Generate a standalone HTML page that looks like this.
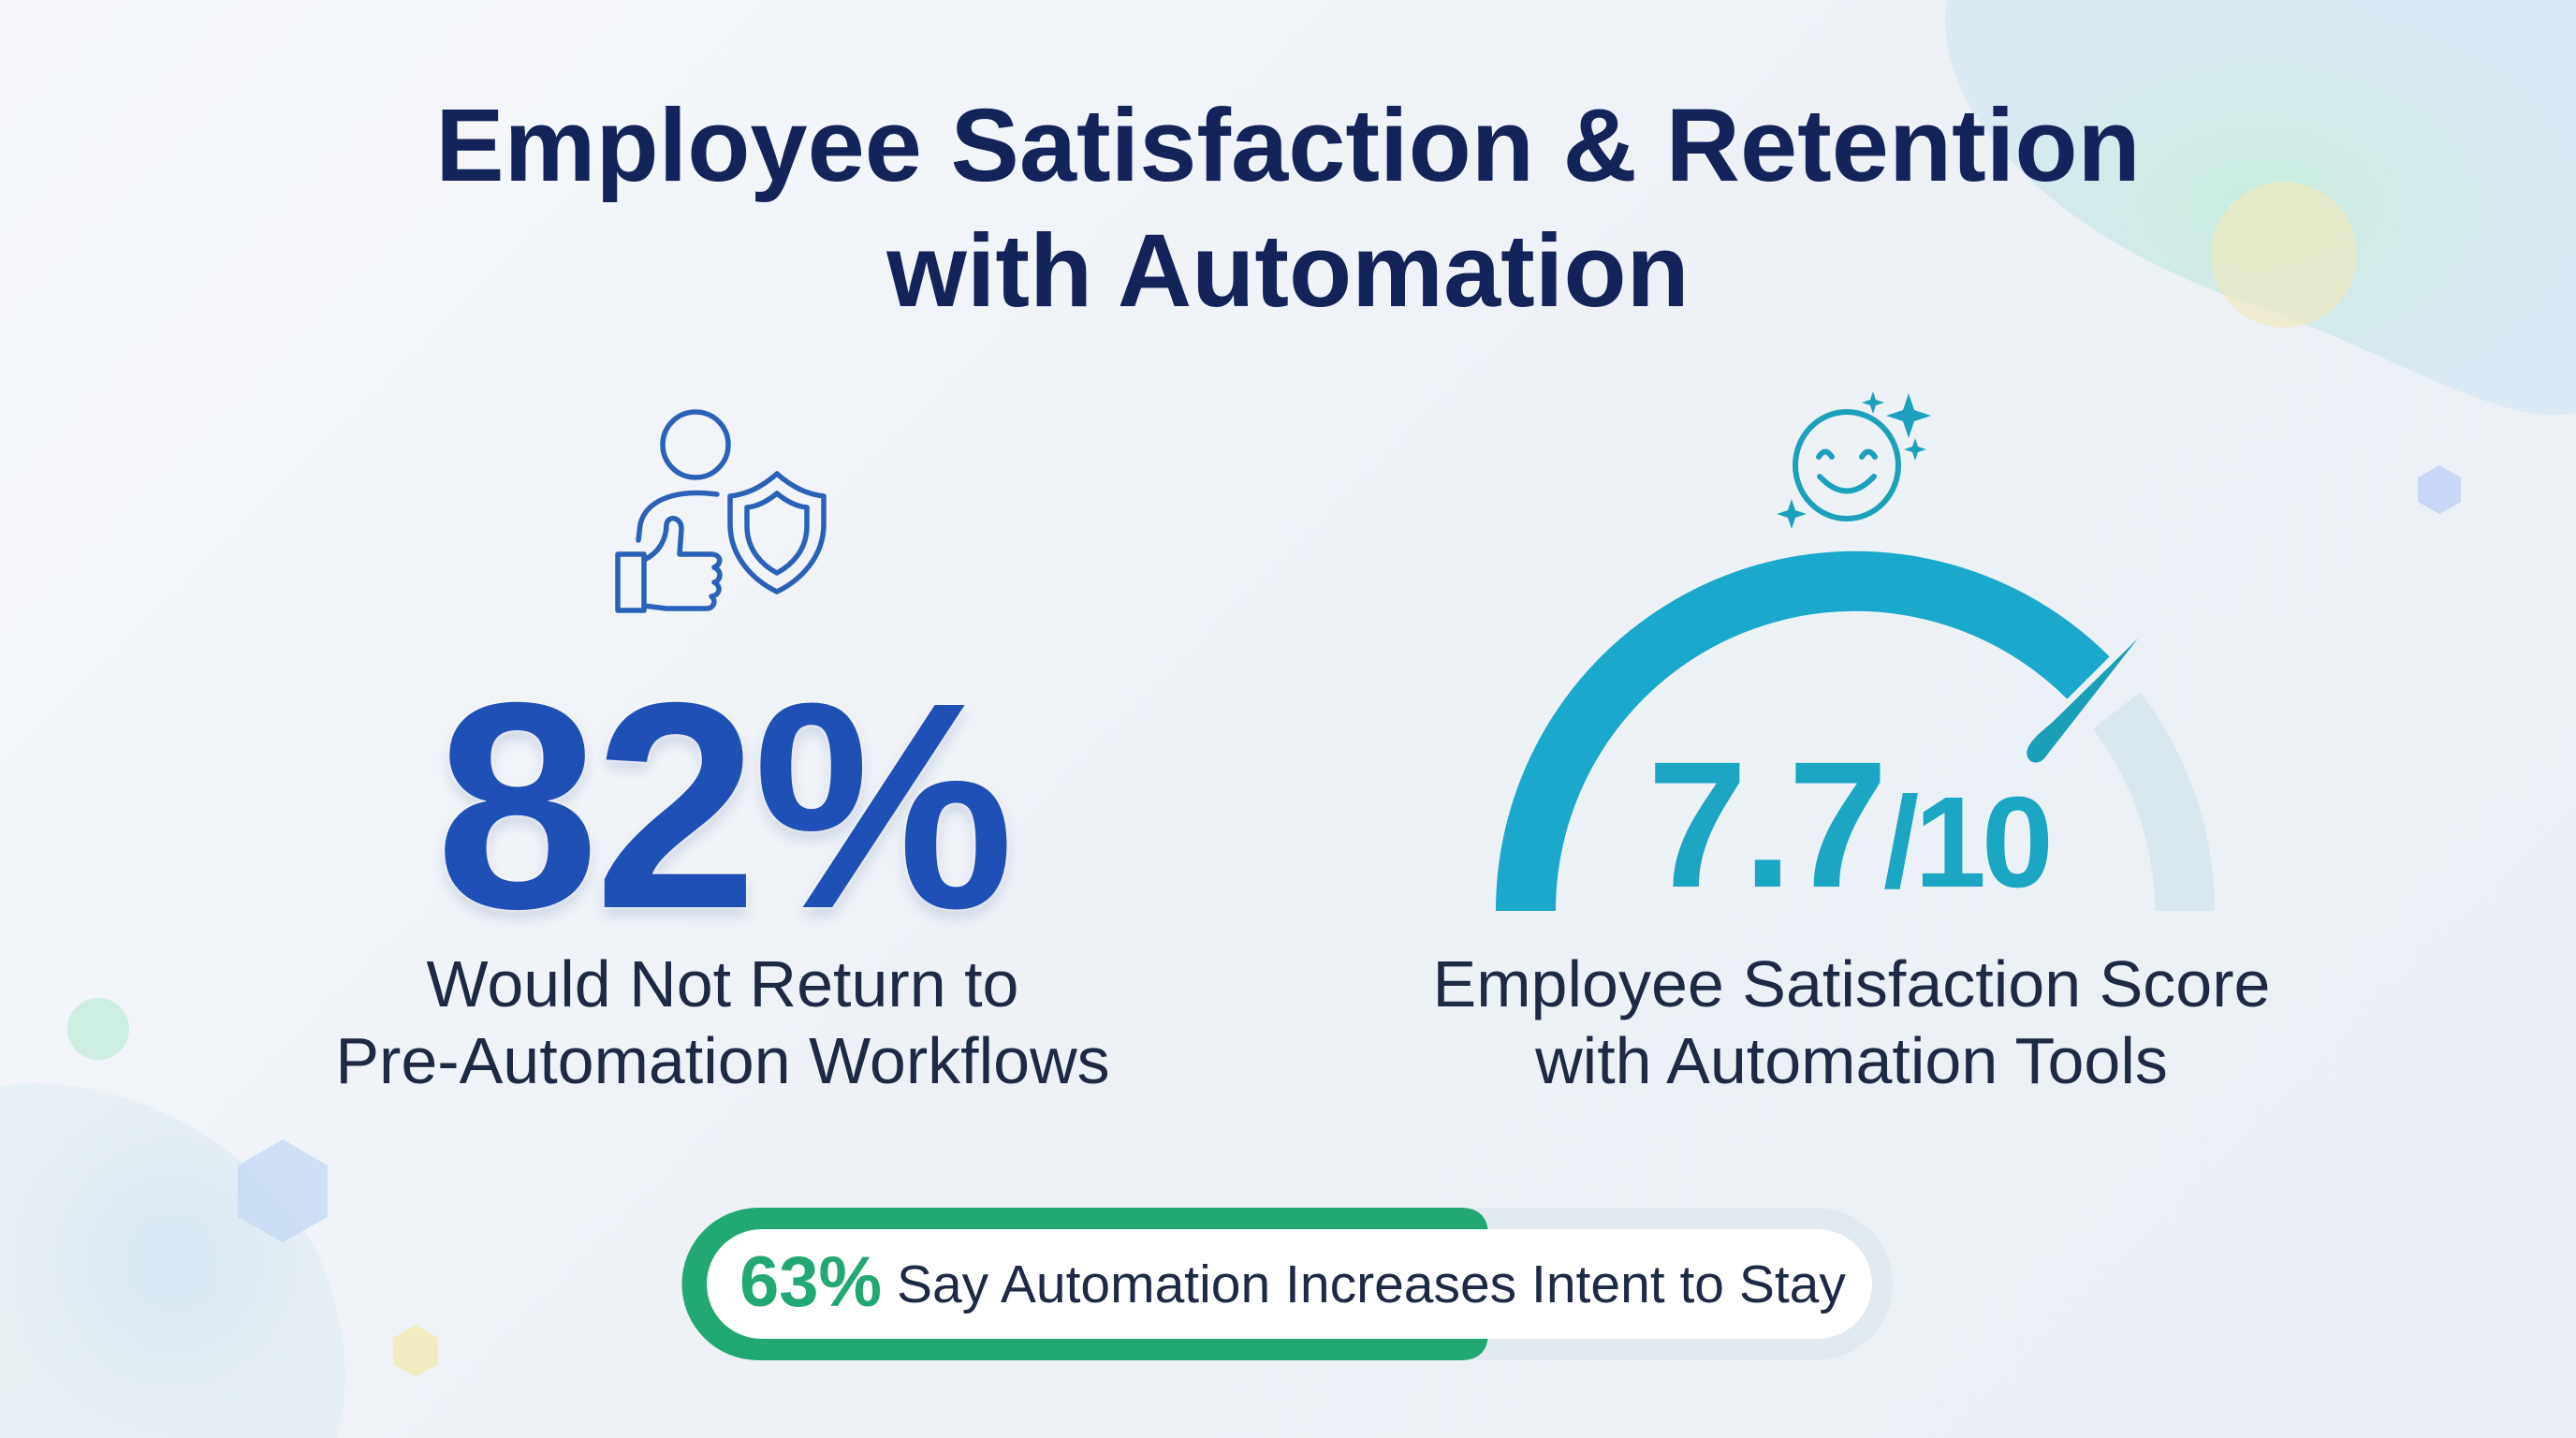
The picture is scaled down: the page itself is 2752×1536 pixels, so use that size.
<!DOCTYPE html>
<html><head><meta charset="utf-8"><style>
html,body{margin:0;padding:0}
body{width:2752px;height:1536px;overflow:hidden;background:linear-gradient(135deg,#f6f8fb 0%,#eef2f7 50%,#eaf0f6 100%);font-family:"Liberation Sans",sans-serif;position:relative}
.t{position:absolute;left:0;width:2752px;text-align:center;color:#14235a;font-weight:bold;font-size:110px;letter-spacing:0px}
.c{position:absolute;text-align:center;color:#1e2a44;font-size:70px;line-height:82px}
</style></head><body>
<svg width="2752" height="1536" style="position:absolute;left:0;top:0">
<defs>
<radialGradient id="g1" cx="0.5" cy="0.5" r="0.5"><stop offset="0" stop-color="#c6ecdc"/><stop offset="1" stop-color="#d2e6f2" stop-opacity="0.7"/></radialGradient>
<radialGradient id="g2" cx="0.5" cy="0.5" r="0.5"><stop offset="0" stop-color="#d5e6f5"/><stop offset="1" stop-color="#dcecf0" stop-opacity="0.5"/></radialGradient>
</defs>
<path d="M2080 0 C2060 120 2200 260 2420 330 C2560 380 2680 460 2752 440 L2752 0 Z" fill="url(#g1)" opacity="0.95"/>
<circle cx="2440" cy="272" r="78" fill="#efeac0" opacity="0.7"/>
<polygon points="2606,497 2629,510 2629,536 2606,549 2583,536 2583,510" fill="#c9d6f4"/>
<path d="M0 1160 C120 1140 280 1220 340 1340 C380 1430 370 1500 360 1536 L0 1536 Z" fill="url(#g2)" opacity="0.9"/>
<circle cx="105" cy="1099" r="33" fill="#cdeee0"/>
<polygon points="302,1217 350,1245 350,1300 302,1327 254,1300 254,1245" fill="#c5d8f2" opacity="0.8"/>
<polygon points="444,1415 468,1429 468,1457 444,1471 420,1457 420,1429" fill="#f3ecc0"/>
<g fill="none" stroke="#2a62b8" stroke-width="5.5" stroke-linecap="round" stroke-linejoin="round">
<circle cx="743" cy="475" r="35"/>
<path d="M766 528 C720 522 690 535 684 560 L682 577"/>
<path d="M660 592 L688 592 L688 652 L660 652 Z"/>
<path d="M688 598 C705 590 712 575 712 560 C714 550 728 552 728 565 L726 592 L760 592 C770 592 772 602 763 606 C772 610 770 620 763 622 C771 626 769 636 760 637 C766 642 762 650 755 650 L712 650 L688 647"/>
<path d="M830 506 C812 522 796 528 780 530 L780 560 C780 595 805 620 830 632 C855 620 880 595 880 560 L880 530 C864 528 848 522 830 506 Z"/>
<path d="M830 527 C818 537 808 541 798 542 L798 562 C798 588 815 604 830 612 C845 604 862 588 862 562 L862 542 C852 541 842 537 830 527 Z"/>
</g>
<g fill="none" stroke="#1ba1bd" stroke-width="6" stroke-linecap="round">
<ellipse cx="1973" cy="497" rx="55" ry="57"/>
<path d="M1943 488 Q1950 477 1957 488"/><path d="M1989 488 Q1996 477 2003 488"/>
<path d="M1944 509 Q1973 540 2002 509"/>
</g>
<g fill="#1ba1bd">
<path d="M2039 420 l6 18 l18 6 l-18 6 l-6 18 l-6 -18 l-18 -6 l18 -6 z"/>
<path d="M2001 418 l3 9 l9 3 l-9 3 l-3 9 l-3 -9 l-9 -3 l9 -3 z"/>
<path d="M2046 468 l3 9 l9 3 l-9 3 l-3 9 l-3 -9 l-9 -3 l9 -3 z"/>
<path d="M1914 533 l4 12 l12 4 l-12 4 l-4 12 l-4 -12 l-12 -4 l12 -4 z"/>
</g>
<path d="M1630 973 A352 352 0 0 1 2231 724" fill="none" stroke="#1aa8cc" stroke-width="64"/>
<path d="M2261 759 A352 352 0 0 1 2334 973" fill="none" stroke="#d9e7ef" stroke-width="64"/>
<path d="M2284 682 L2184 810 C2175 820 2162 812 2166 800 C2170 790 2180 782 2192 772 Z" fill="#1a9fb8"/>
<rect x="728" y="1290" width="1294" height="163" rx="82" fill="#dfe8ee" opacity="0.8"/>
<path d="M810 1290 L1560 1290 Q1590 1290 1590 1320 L1590 1423 Q1590 1453 1560 1453 L810 1453 A81.5 81.5 0 0 1 810 1290 Z" fill="#22a873"/>
<rect x="755" y="1313" width="1245" height="117" rx="58.5" fill="#ffffff"/>
</svg>
<div class="t" style="top:92px">Employee Satisfaction &amp; Retention</div>
<div class="t" style="top:226px">with Automation</div>
<div style="position:absolute;left:367px;width:810px;top:680px;text-align:center;font-size:314px;font-weight:bold;color:#1f50b5;letter-spacing:-5px;text-shadow:0 0 6px #fff,0 8px 14px rgba(30,60,140,0.18)">82%</div>
<div class="c" style="left:272px;width:1000px;top:1010px">Would Not Return to<br>Pre-Automation Workflows</div>
<div style="position:absolute;left:1760px;top:770px;font-weight:bold;color:#1ba6c4;white-space:nowrap;letter-spacing:-5px"><span style="font-size:192px">7.7</span><span style="font-size:138px">/10</span></div>
<div class="c" style="left:1478px;width:1000px;top:1010px">Employee Satisfaction Score<br>with Automation Tools</div>
<div style="position:absolute;left:790px;top:1330px;white-space:nowrap;color:#1e2a44;font-size:57px;line-height:80px"><span style="color:#22a873;font-weight:bold;font-size:76px;vertical-align:-4px">63%</span> Say Automation Increases Intent to Stay</div>
</body></html>
